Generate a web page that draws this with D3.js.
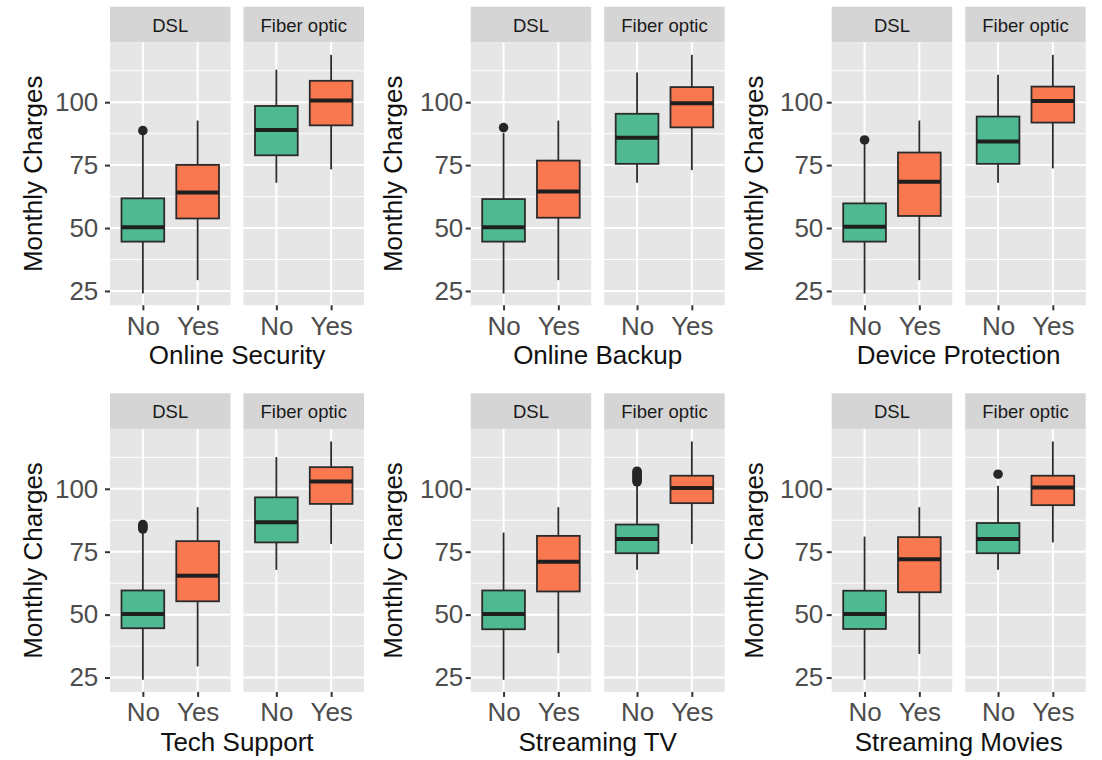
<!DOCTYPE html>
<html>
<head>
<meta charset="utf-8">
<script src="https://cdn.jsdelivr.net/npm/d3@7"></script>
<style>
  html, body { margin: 0; padding: 0; background: #ffffff; }
  svg { display: block; }
  text { font-family: "Liberation Sans", Arial, Helvetica, sans-serif; }
</style>
</head>
<body>
<svg id="chart" width="1102" height="760"></svg>
<script>
// Services shown, one small-multiple per service
const services = ["Online Security", "Online Backup", "Device Protection",
                  "Tech Support", "Streaming TV", "Streaming Movies"];
const internetTypes = ["DSL", "Fiber optic"];
const answers = ["No", "Yes"];
const yTicks = [25, 50, 75, 100];
const yLabel = "Monthly Charges";

// Box statistics per service, ordered [DSL No, DSL Yes, Fiber No, Fiber Yes]
const whiskerLow = [
  [24.0, 29.3, 68.0, 73.3],
  [24.0, 29.3, 68.0, 73.0],
  [24.0, 29.3, 68.0, 73.7],
  [24.1, 29.4, 67.8, 78.1],
  [24.1, 34.7, 67.8, 78.1],
  [24.1, 34.4, 67.8, 78.7]
];
const q1 = [
  [44.6, 53.8, 78.9, 90.8],
  [44.6, 54.1, 75.5, 90.0],
  [44.6, 54.8, 75.5, 91.9],
  [44.6, 55.3, 78.7, 94.0],
  [44.2, 59.2, 74.4, 94.3],
  [44.3, 58.9, 74.4, 93.5]
];
const median = [
  [50.3, 64.1, 89.0, 100.7],
  [50.3, 64.5, 85.9, 99.6],
  [50.5, 68.4, 84.4, 100.5],
  [50.3, 65.5, 86.7, 102.9],
  [50.3, 71.0, 80.1, 100.3],
  [50.3, 72.0, 80.1, 100.5]
];
const q3 = [
  [61.8, 75.1, 98.5, 108.5],
  [61.5, 76.8, 95.4, 106.0],
  [59.8, 80.0, 94.3, 106.2],
  [59.6, 79.2, 96.6, 108.6],
  [59.6, 81.3, 85.8, 105.2],
  [59.5, 80.8, 86.4, 105.2]
];
const whiskerHigh = [
  [87.0, 92.7, 112.9, 118.8],
  [87.7, 92.7, 111.8, 118.8],
  [83.4, 92.7, 110.9, 118.8],
  [82.4, 92.7, 112.6, 118.8],
  [82.6, 92.7, 101.5, 118.8],
  [81.0, 92.7, 101.2, 118.8]
];
const outliers = [
  [[88.7], [], [], []],
  [[89.9], [], [], []],
  [[85.0], [], [], []],
  [[84.0, 84.6, 85.2, 85.8], [], [], []],
  [[], [], [102.8, 103.5, 104.2, 105.0, 105.7, 106.4, 107.0], []],
  [[], [], [105.8], []]
];

// Layout
const colLeft = [110, 470.7, 831.7];
const rowTop = [6.7, 393.3];
const stripH = 35.6;
const panelW = 120.5;
const panelH = 263;
const facetGap = 13;
const tickLabelGap = [6.7, 2.4, 3.4];
const fontSize = 26;
const fillColor = d3.scaleOrdinal().domain(answers).range(["#4fba91", "#f9784f"]);

const svg = d3.select("#chart");

const y = d3.scaleLinear().domain([19.3, 123.8]).range([panelH, 0]);
const x = d3.scalePoint().domain(answers).range([0, panelW]).padding(0.6);
const boxW = x.step() * 0.78;
const minorTicks = yTicks.map(t => t + 12.5).filter(t => t > y.domain()[0] && t < y.domain()[1]);

services.forEach((service, si) => {
  const col = si % 3, row = Math.floor(si / 3);
  const left = colLeft[col];
  const panelTop = rowTop[row] + stripH;
  const g = svg.append("g").attr("transform", `translate(${left},${panelTop})`);

  internetTypes.forEach((net, ni) => {
    const px = ni * (panelW + facetGap);
    const p = g.append("g").attr("transform", `translate(${px},0)`);

    // strip
    p.append("rect").attr("x", 0).attr("y", -stripH).attr("width", panelW).attr("height", stripH)
      .attr("fill", "#d5d5d5");
    p.append("text").attr("x", panelW / 2).attr("y", -stripH + 25)
      .attr("text-anchor", "middle").attr("font-size", 18.5).attr("fill", "#1a1a1a").text(net);

    // panel background + grid
    p.append("rect").attr("width", panelW).attr("height", panelH).attr("fill", "#e6e6e6");
    p.selectAll(".minor").data(minorTicks).join("line")
      .attr("x1", 0).attr("x2", panelW).attr("y1", d => y(d)).attr("y2", d => y(d))
      .attr("stroke", "#ffffff").attr("stroke-width", 1);
    p.selectAll(".major").data(yTicks).join("line")
      .attr("x1", 0).attr("x2", panelW).attr("y1", d => y(d)).attr("y2", d => y(d))
      .attr("stroke", "#ffffff").attr("stroke-width", 2);
    p.selectAll(".vmajor").data(answers).join("line")
      .attr("x1", d => x(d)).attr("x2", d => x(d)).attr("y1", 0).attr("y2", panelH)
      .attr("stroke", "#ffffff").attr("stroke-width", 2);

    // boxes
    answers.forEach((ans, ai) => {
      const k = ni * 2 + ai;
      const cx = x(ans);
      const b = p.append("g");
      b.append("line").attr("x1", cx).attr("x2", cx)
        .attr("y1", y(whiskerHigh[si][k])).attr("y2", y(q3[si][k]))
        .attr("stroke", "#2b2b2b").attr("stroke-width", 1.8);
      b.append("line").attr("x1", cx).attr("x2", cx)
        .attr("y1", y(q1[si][k])).attr("y2", y(whiskerLow[si][k]))
        .attr("stroke", "#2b2b2b").attr("stroke-width", 1.8);
      b.append("rect").attr("x", cx - boxW / 2).attr("width", boxW)
        .attr("y", y(q3[si][k])).attr("height", y(q1[si][k]) - y(q3[si][k]))
        .attr("fill", fillColor(ans)).attr("stroke", "#2b2b2b").attr("stroke-width", 1.8);
      b.append("line").attr("x1", cx - boxW / 2).attr("x2", cx + boxW / 2)
        .attr("y1", y(median[si][k])).attr("y2", y(median[si][k]))
        .attr("stroke", "#1f1f1f").attr("stroke-width", 4);
      b.selectAll("circle").data(outliers[si][k]).join("circle")
        .attr("cx", cx).attr("cy", d => y(d)).attr("r", 4.8).attr("fill", "#262626");
    });

    // x axis
    const xa = p.append("g").attr("transform", `translate(0,${panelH})`)
      .call(d3.axisBottom(x).tickSize(5).tickPadding(6));
    xa.select(".domain").remove();
    xa.selectAll(".tick line").attr("stroke", "#333333").attr("stroke-width", 2);
    xa.selectAll(".tick text").attr("font-size", fontSize).attr("fill", "#4d4d4d")
      .attr("font-family", "'Liberation Sans', Arial, sans-serif");
  });

  // y axis (left facet only)
  const ya = g.append("g")
    .call(d3.axisLeft(y).tickValues(yTicks).tickSize(5).tickPadding(tickLabelGap[col]));
  ya.select(".domain").remove();
  ya.selectAll(".tick line").attr("stroke", "#333333").attr("stroke-width", 2);
  ya.selectAll(".tick text").attr("font-size", fontSize).attr("fill", "#4d4d4d")
    .attr("font-family", "'Liberation Sans', Arial, sans-serif");

  // axis titles
  g.append("text").attr("transform", `translate(-68.5,${panelH / 2}) rotate(-90)`)
    .attr("text-anchor", "middle").attr("font-size", fontSize).attr("fill", "#111111").text(yLabel);
  g.append("text").attr("x", (2 * panelW + facetGap) / 2).attr("y", panelH + 59)
    .attr("text-anchor", "middle").attr("font-size", fontSize).attr("fill", "#111111").text(service);
});
</script>
</body>
</html>
